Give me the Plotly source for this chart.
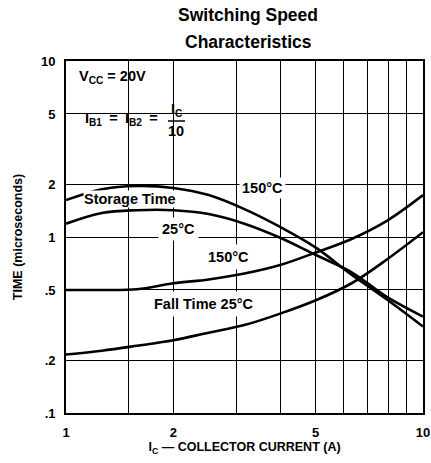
import plotly.graph_objects as go

# ---- data (at log-evenly spaced currents) ----
ic = [1.0, 1.26, 1.58, 2.0, 2.51, 3.16, 3.98, 5.01, 6.31, 7.94, 10.0]
storage_150 = [1.62, 1.87, 1.95, 1.90, 1.73, 1.44, 1.14, 0.87, 0.61, 0.44, 0.31]
storage_25 = [1.19, 1.37, 1.42, 1.42, 1.35, 1.19, 0.99, 0.79, 0.63, 0.455, 0.353]
fall_150 = [0.50, 0.50, 0.505, 0.546, 0.574, 0.62, 0.693, 0.817, 0.975, 1.24, 1.73]
fall_25 = [0.215, 0.226, 0.241, 0.259, 0.286, 0.316, 0.367, 0.437, 0.546, 0.748, 1.065]

x_tickvals = [1, 2, 5, 10]
x_ticktext = ["1", "2", "5", "10"]
x_minor_grid = [1.5, 3, 4, 6, 7, 8, 9]
y_tickvals = [0.1, 0.2, 0.5, 1, 2, 5, 10]
y_ticktext = [".1", ".2", ".5", "1", "2", "5", "10"]

TFONT = "Liberation Sans Narrow, Arial Narrow, Liberation Sans, Arial, sans-serif"
BFONT = "Liberation Sans, Arial, sans-serif"

fig = go.Figure()
for ys in [storage_150, storage_25, fall_150, fall_25]:
    fig.add_trace(go.Scatter(x=ic, y=ys, mode="lines",
                             line=dict(color="black", width=2.6, shape="spline", smoothing=1.0),
                             showlegend=False, hoverinfo="skip"))

W, H = 431, 463
L, R, T, B = 66, 8, 61, 50
pw, ph = W - L - R, H - T - B

def px2paper(px, py):
    return (px - L) / pw, (H - B - py) / ph

annots = []
def add_text(text, px, py, xanchor="center", size=14.5, bg="white", pad=1, font=BFONT):
    xp, yp = px2paper(px, py)
    annots.append(dict(text=text, x=xp, y=yp, xref="paper", yref="paper", xanchor=xanchor, yanchor="middle",
                       showarrow=False, font=dict(family=font, size=size, color="black", weight="bold"),
                       bgcolor=bg, borderpad=pad))

add_text("Storage Time", 130, 199, pad=0)
add_text("150°C", 262, 188, pad=2)
add_text("25°C", 178, 229, pad=3)
add_text("150°C", 228, 257, pad=4)
add_text("Fall Time 25°C", 204, 304, pad=4)
add_text("V<sub>CC</sub> = 20V", 77, 77, xanchor="left", bg=None)
add_text("I<sub>B1</sub>\u2002=\u2002I<sub>B2</sub>\u2002=", 83, 119, xanchor="left", bg=None)
add_text("I<sub>C</sub>", 177, 110, bg=None)
add_text("10", 176, 131, bg=None)

# title
add_text("Switching Speed", 248, 15, size=17.5, bg=None, font=TFONT)
add_text("Characteristics", 248, 42, size=17.5, bg=None, font=TFONT)

fig.update_layout(annotations=annots)

# white box behind the conditions text (covers grid, below traces)
x0, y0 = px2paper(72, 137)
x1, y1 = px2paper(188, 67)
fig.add_shape(type="rect", xref="paper", yref="paper", x0=x0, y0=y0, x1=x1, y1=y1,
              fillcolor="white", line=dict(width=0), layer="between")
# fraction bar
fx0, fy = px2paper(168, 121)
fx1, _ = px2paper(185, 121)
fig.add_shape(type="line", xref="paper", yref="paper", x0=fx0, y0=fy, x1=fx1, y1=fy,
              line=dict(color="black", width=1.5), layer="above")

axis_font = dict(family=BFONT, size=13, color="black", weight="bold")
title_font = dict(family=BFONT, size=12.5, color="black", weight="bold")
fig.update_xaxes(type="log", range=[0, 1], tickvals=x_tickvals, ticktext=x_ticktext,
                 showgrid=True, gridcolor="black", gridwidth=1,
                 minor=dict(tickvals=x_minor_grid, showgrid=True, gridcolor="black", gridwidth=1, ticks=""),
                 showline=True, mirror=True, linecolor="black", linewidth=1.8, ticks="",
                 ticklabelstandoff=6, tickfont=axis_font, zeroline=False,
                 title=dict(text="I<sub>C</sub> — COLLECTOR CURRENT (A)", font=title_font, standoff=4))
fig.update_yaxes(type="log", range=[-1, 1], tickvals=y_tickvals, ticktext=y_ticktext,
                 showgrid=True, gridcolor="black", gridwidth=1,
                 showline=True, mirror=True, linecolor="black", linewidth=1.8, ticks="",
                 ticklabelstandoff=6, tickfont=axis_font, zeroline=False,
                 title=dict(text="TIME (microseconds)", font=title_font, standoff=16))

fig.update_layout(width=W, height=H, margin=dict(l=L, r=R, t=T, b=B, autoexpand=False),
                  paper_bgcolor="white", plot_bgcolor="white", showlegend=False)

fig.write_html("out.html", config={"displayModeBar": False},
               post_script="document.body.style.margin='0px';")
